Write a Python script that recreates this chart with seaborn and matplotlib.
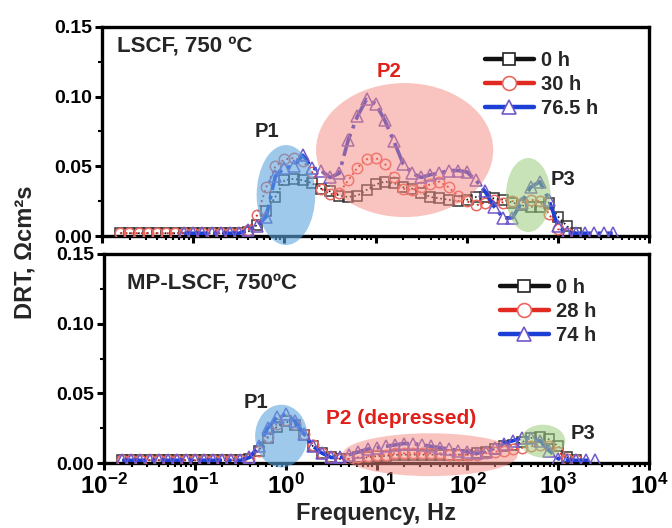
import numpy as np
import pandas as pd
import matplotlib
matplotlib.use("Agg")
import matplotlib.pyplot as plt
from matplotlib.patches import Ellipse
from matplotlib.lines import Line2D
from matplotlib.ticker import FixedLocator, MultipleLocator, FormatStrFormatter, NullFormatter, LogFormatterSciNotation
import seaborn as sns

nan = np.nan

# ---------------- data ----------------
log_freq = [-1.8, -1.7, -1.6, -1.5, -1.4, -1.3, -1.2, -1.1, -1.0, -0.9, -0.8, -0.7, -0.6, -0.5,
            -0.4, -0.3, -0.2, -0.1, 0.0, 0.1, 0.2, 0.3, 0.4, 0.5, 0.6, 0.7, 0.8, 0.9,
            1.0, 1.1, 1.2, 1.3, 1.4, 1.5, 1.6, 1.7, 1.8, 1.9,
            2.0, 2.1, 2.2, 2.3, 2.4, 2.5, 2.6, 2.7, 2.8, 2.9,
            3.0, 3.1, 3.2, 3.3, 3.4, 3.5, 3.6]

top_labels = ["0 h", "30 h", "76.5 h"]
bottom_labels = ["0 h", "28 h", "74 h"]
decade_ticks = [1e-2, 1e-1, 1e0, 1e1, 1e2, 1e3, 1e4]

lscf_0h = [0.002, 0.002, 0.002, 0.002, 0.002, 0.002, 0.002, 0.002, 0.002, 0.002, 0.002, 0.002, 0.002, 0.002,
           0.003, 0.008, 0.018, 0.028, 0.040, 0.041, 0.040, 0.038, 0.034, 0.032, 0.029, 0.028, 0.029, 0.033,
           0.037, 0.039, 0.038, 0.035, 0.034, 0.031, 0.028, 0.027, 0.026, 0.025,
           0.026, 0.028, 0.028, 0.027, 0.026, 0.024, 0.022, 0.021, 0.021, 0.024,
           0.014, 0.007, 0.002, nan, nan, nan, nan]
lscf_30h = [0.002, 0.002, 0.002, 0.002, 0.002, 0.002, 0.002, 0.002, 0.002, 0.002, 0.002, 0.002, 0.002, 0.002,
            0.004, 0.015, 0.035, 0.050, 0.055, 0.056, 0.054, 0.046, 0.034, 0.030, 0.031, 0.040, 0.049, 0.055,
            0.056, 0.052, 0.042, 0.034, 0.033, 0.035, 0.037, 0.039, 0.035, 0.029,
            0.025, 0.022, 0.024, 0.026, 0.024, 0.025, 0.024, 0.026, 0.025, 0.016,
            0.005, 0.002, nan, nan, nan, nan, nan]
lscf_76h = [nan, nan, nan, nan, nan, nan, nan, 0.002, 0.002, 0.002, 0.002, 0.002, 0.002, 0.002,
            0.004, 0.007, 0.014, 0.043, 0.049, 0.050, 0.058, 0.049, 0.047, 0.042, 0.045, 0.069, 0.086, 0.098,
            0.095, 0.083, 0.068, 0.052, 0.045, 0.042, 0.044, 0.045, 0.047, 0.047,
            0.046, 0.040, 0.032, 0.021, 0.013, 0.013, 0.024, 0.035, 0.039, 0.026,
            0.007, 0.002, 0.002, 0.002, 0.002, 0.002, 0.002]

mp_0h = [0.002, 0.002, 0.002, 0.002, 0.002, 0.002, 0.002, 0.002, 0.002, 0.002, 0.002, 0.002, 0.002, 0.002,
         0.003, 0.009, 0.018, 0.026, 0.030, 0.027, 0.020, 0.012, 0.007, 0.004, 0.003, 0.003, 0.004, 0.004,
         0.005, 0.005, 0.006, 0.006, 0.006, 0.006, 0.006, 0.006, 0.006, 0.006,
         0.006, 0.007, 0.008, 0.010, 0.012, 0.013, 0.015, 0.018, 0.019, 0.017,
         0.012, 0.004, 0.002, nan, nan, nan, nan]
mp_28h = [0.002, 0.002, 0.002, 0.002, 0.002, 0.002, 0.002, 0.002, 0.002, 0.002, 0.002, 0.002, 0.002, 0.002,
          0.003, 0.009, 0.019, 0.028, 0.031, 0.028, 0.021, 0.013, 0.007, 0.004, 0.003, 0.003, 0.004, 0.005,
          0.006, 0.006, 0.007, 0.007, 0.007, 0.007, 0.007, 0.007, 0.006, 0.006,
          0.006, 0.006, 0.007, 0.008, 0.009, 0.010, 0.011, 0.012, 0.013, 0.012,
          0.008, 0.003, 0.002, nan, nan, nan, nan]
mp_74h = [0.002, 0.002, 0.002, 0.002, 0.002, 0.002, 0.002, 0.002, 0.002, 0.002, 0.002, 0.002, 0.002, 0.002,
          0.004, 0.012, 0.025, 0.033, 0.035, 0.030, 0.021, 0.012, 0.007, 0.004, 0.004, 0.006, 0.008, 0.010,
          0.011, 0.012, 0.013, 0.014, 0.014, 0.013, 0.012, 0.011, 0.010, 0.009,
          0.008, 0.007, 0.008, 0.011, 0.014, 0.016, 0.018, 0.018, 0.016, 0.009,
          0.003, 0.002, 0.002, 0.002, 0.002, nan, nan]

# ---------------- style ----------------
sns.set_theme(style="ticks")
plt.rcParams["font.family"] = ["Liberation Sans", "DejaVu Sans"]
plt.rcParams["font.weight"] = "bold"
plt.rcParams["axes.labelweight"] = "bold"
plt.rcParams["mathtext.fontset"] = "custom"
plt.rcParams["mathtext.rm"] = "Liberation Sans:bold"
plt.rcParams["mathtext.bf"] = "Liberation Sans:bold"
plt.rcParams["mathtext.it"] = "Liberation Sans:bold"
plt.rcParams["mathtext.default"] = "bf"

c_black, c_red, c_blue = "#111111", "#e02a22", "#1c3fd6"
e_black, e_red, e_blue = "#333333", "#e8675f", "#7158c9"

series_style = [
    dict(marker="s", color=c_black, mec=e_black, ms=6.5, ls=":", lw=1.2),
    dict(marker="o", color=c_red, mec=e_red, ms=7.5, ls=":", lw=1.4),
    dict(marker="^", color=c_blue, mec=e_blue, ms=8, ls="-.", lw=2.6),
]

fig = plt.figure(figsize=(6.72, 5.28), dpi=100)
ax1 = fig.add_axes([0.152, 0.553, 0.814, 0.396])
ax2 = fig.add_axes([0.155, 0.123, 0.811, 0.396])

freq = 10.0 ** np.array(log_freq)


def draw(ax, series, labels):
    for vals, st, lab in zip(series, series_style, labels):
        df = pd.DataFrame({"f": freq, "v": vals}).dropna()
        sns.lineplot(data=df, x="f", y="v", ax=ax, color=st["color"], linestyle=st["ls"],
                     linewidth=st["lw"], marker=st["marker"], markersize=st["ms"],
                     markerfacecolor="none", markeredgecolor=st["mec"], markeredgewidth=1.1,
                     zorder=3, legend=False)
    handles = [Line2D([0], [0], color=st["color"], lw=3.2, marker=st["marker"],
                      markersize=st["ms"] + 2.5, markerfacecolor="white",
                      markeredgecolor=st["mec"] if st["marker"] != "s" else "#222222",
                      markeredgewidth=1.2)
               for st in series_style]
    return handles


h1 = draw(ax1, [lscf_0h, lscf_30h, lscf_76h], top_labels)
h2 = draw(ax2, [mp_0h, mp_28h, mp_74h], bottom_labels)

minor_ticks = [m * d for d in decade_ticks[:-1] for m in range(2, 10)]
for ax in (ax1, ax2):
    ax.set_xscale("log")
    ax.set_xlim(1e-2, 1e4)
    ax.set_ylim(0, 0.15)
    ax.set_xlabel("")
    ax.set_ylabel("")
    ax.yaxis.set_major_locator(MultipleLocator(0.05))
    ax.yaxis.set_minor_locator(MultipleLocator(0.025))
    ax.yaxis.set_major_formatter(FormatStrFormatter("%.2f"))
    ax.xaxis.set_major_locator(FixedLocator(decade_ticks))
    ax.xaxis.set_major_formatter(LogFormatterSciNotation())
    ax.xaxis.set_minor_locator(FixedLocator(minor_ticks))
    ax.xaxis.set_minor_formatter(NullFormatter())
    for sp in ax.spines.values():
        sp.set_linewidth(2.4)
        sp.set_color("black")
    ax.tick_params(which="major", direction="out", length=5, width=2.2, colors="black",
                   labelsize=14, pad=2)
    ax.tick_params(which="minor", direction="out", length=3, width=1.5, colors="black")
    ax.tick_params(axis="x", which="major", labelsize=17.5, pad=3)
    for lab in ax.get_yticklabels():
        lab.set_fontweight("bold")

ax1.tick_params(axis="x", which="both", labelbottom=False)

# highlight ellipses (axes-fraction geometry)
def ell(ax, cx, cy, w, h, col, a):
    e = Ellipse((cx, cy), w, h, transform=ax.transAxes, facecolor=col, edgecolor="none",
                alpha=a, zorder=4, clip_on=False)
    ax.add_patch(e)

ell(ax1, 0.336, 0.196, 0.107, 0.478, "#5ea6df", 0.6)
ell(ax1, 0.553, 0.411, 0.324, 0.641, "#f58a80", 0.5)
ell(ax1, 0.779, 0.196, 0.0815, 0.354, "#9ccc7c", 0.55)
ell(ax2, 0.325, 0.129, 0.096, 0.300, "#5ea6df", 0.6)
ell(ax2, 0.598, 0.040, 0.322, 0.205, "#f58a80", 0.5)
ell(ax2, 0.805, 0.105, 0.082, 0.157, "#9ccc7c", 0.55)

# texts
txt = dict(fontweight="bold", va="center")
ax1.text(0.027, 0.904, "LSCF, 750 ºC", transform=ax1.transAxes, fontsize=16, ha="left", **txt)
ax1.text(0.301, 0.498, "P1", transform=ax1.transAxes, fontsize=14.5, ha="center", zorder=6, **txt)
ax1.text(0.525, 0.785, "P2", transform=ax1.transAxes, fontsize=14.5, ha="center", color="#e0201a", zorder=6, **txt)
ax1.text(0.842, 0.268, "P3", transform=ax1.transAxes, fontsize=14.5, ha="center", zorder=6, **txt)
ax2.text(0.042, 0.857, "MP-LSCF, 750ºC", transform=ax2.transAxes, fontsize=16, ha="left", **txt)
ax2.text(0.278, 0.29, "P1", transform=ax2.transAxes, fontsize=14.5, ha="center", zorder=6, **txt)
ax2.text(0.545, 0.214, "P2 (depressed)", transform=ax2.transAxes, fontsize=15, ha="center", color="#e0201a", zorder=6, **txt)
ax2.text(0.878, 0.143, "P3", transform=ax2.transAxes, fontsize=14.5, ha="center", zorder=6, **txt)

leg_kw = dict(loc="upper left", frameon=False, borderpad=0, handlelength=2.45, handletextpad=0.35,
              labelspacing=0.25, prop={"weight": "bold", "size": 14.5})
ax1.legend(h1, top_labels, bbox_to_anchor=(0.681, 0.935), **leg_kw)
ax2.legend(h2, bottom_labels, bbox_to_anchor=(0.707, 0.935), **leg_kw)

fig.text(0.037, 0.523, "DRT, Ωcm²s", rotation=90, ha="center", va="center", fontsize=17, fontweight="bold")
fig.text(0.56, 0.028, "Frequency, Hz", ha="center", va="center", fontsize=17, fontweight="bold")

fig.savefig("out.png", dpi=100)
